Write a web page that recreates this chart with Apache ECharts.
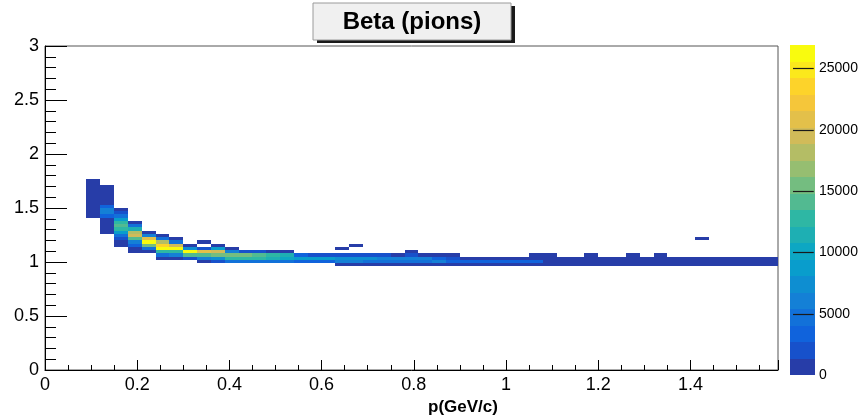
<!DOCTYPE html>
<html>
<head>
<meta charset="utf-8">
<script src="https://cdn.jsdelivr.net/npm/echarts@6/dist/echarts.min.js"></script>
<style>
html,body{margin:0;padding:0;background:#fff;}
#chart{width:863px;height:419px;}
</style>
</head>
<body>
<div id="chart"></div>
<script>
// ---------------- DATA ----------------
const titleText = 'Beta (pions)';
const xTitle = 'p(GeV/c)';
const xMin = 0, xMax = 1.59, yMin = 0, yMax = 3;
const xBinWidth = 0.03, yBinWidth = 0.03;
const zMax = 26900;          // top of colour scale
const nContours = 20;
const xTickLabels = [0, 0.2, 0.4, 0.6, 0.8, 1, 1.2, 1.4];
const zTickValues = [0, 5000, 10000, 15000, 20000, 25000];

// lower x edge of each filled column
const colX = [0.09, 0.12, 0.15, 0.18, 0.21, 0.24, 0.27, 0.30, 0.33, 0.36,
              0.39, 0.42, 0.45, 0.48, 0.51, 0.54, 0.57, 0.60, 0.63, 0.66,
              0.69, 0.72, 0.75, 0.78, 0.81, 0.84, 0.87, 0.90, 0.93, 0.96,
              0.99, 1.02, 1.05, 1.08, 1.11, 1.14, 1.17, 1.20, 1.23, 1.26,
              1.29, 1.32, 1.35, 1.38, 1.41, 1.44, 1.47, 1.50, 1.53, 1.56];
// lower y edge of the first (lowest) bin listed for each column
const colY0 = [1.41, 1.26, 1.14, 1.08, 1.08, 1.02, 1.02, 1.02, 0.99, 0.99,
               0.99, 0.99, 0.99, 0.99, 0.99, 0.99, 0.99, 0.99, 0.96, 0.96,
               0.96, 0.96, 0.96, 0.96, 0.96, 0.96, 0.96, 0.96, 0.96, 0.96,
               0.96, 0.96, 0.96, 0.96, 0.96, 0.96, 0.96, 0.96, 0.96, 0.96,
               0.96, 0.96, 0.96, 0.96, 0.96, 0.96, 0.96, 0.96, 0.96, 0.96];
// bin contents from bottom to top (0 = empty bin)
const colCounts = [
  [380, 520, 610, 680, 720, 760, 730, 690, 620, 540, 450, 330],
  [260, 540, 820, 1050, 1230, 3300, 6100, 5900, 3400, 1180, 950, 760, 560, 380, 190],
  [420, 980, 2100, 4600, 8600, 12600, 13800, 12300, 8500, 4400, 1900, 800],
  [520, 1250, 3300, 6300, 14100, 19400, 18200, 11300, 4500, 900],
  [800, 4600, 15300, 26900, 20900, 6200, 1100],
  [700, 4400, 12700, 26000, 23500, 18300, 4700, 1000],
  [1000, 6000, 12900, 25900, 19500, 4800, 900],
  [2300, 14000, 25700, 7400, 900],
  [900, 6300, 14200, 20600, 2200, 0, 600],
  [2000, 7400, 15400, 19300, 8700, 800],
  [4500, 12900, 15600, 6000, 700],
  [4400, 13000, 15200, 1600],
  [4300, 12700, 14200, 1500],
  [4200, 11600, 12700, 1200],
  [4100, 10300, 11200, 1000],
  [3800, 9000, 2800],
  [3700, 8800, 2500],
  [3600, 8400, 2300],
  [900, 5600, 7900, 2000, 0, 500],
  [1000, 5400, 7600, 1900, 0, 0, 450],
  [1100, 5200, 7000, 1700],
  [1200, 4900, 6600, 1500],
  [1200, 4600, 6100, 1300],
  [1200, 4400, 5800, 1500, 600],
  [1100, 4200, 5400, 1200],
  [1000, 5500, 3300, 800],
  [950, 3800, 2400, 700],
  [900, 3300, 1200],
  [880, 3200, 1150],
  [860, 3100, 1100],
  [840, 3000, 1050],
  [820, 2900, 1000],
  [800, 2800, 980, 300],
  [780, 1300, 950, 280],
  [760, 1250, 900],
  [740, 1230, 880],
  [720, 1210, 860, 220],
  [700, 1190, 840],
  [680, 1170, 820],
  [660, 1150, 800, 200],
  [640, 1120, 780],
  [620, 1100, 760, 190],
  [600, 1080, 740],
  [580, 1050, 720],
  [560, 1020, 700, 0, 0, 0, 0, 0, 150],
  [540, 1000, 680],
  [520, 980, 660],
  [500, 960, 640],
  [480, 940, 620],
  [460, 920, 600]
];

// ---------------- PALETTE (ROOT kBird) ----------------
const birdStops = [0, 0.125, 0.25, 0.375, 0.5, 0.625, 0.75, 0.875, 1];
const birdR = [0.2082, 0.0592, 0.0780, 0.0232, 0.1802, 0.5301, 0.8186, 0.9956, 0.9764];
const birdG = [0.1664, 0.3599, 0.5041, 0.6419, 0.7178, 0.7492, 0.7328, 0.7862, 0.9832];
const birdB = [0.5293, 0.8684, 0.8385, 0.7914, 0.6425, 0.4662, 0.3499, 0.1968, 0.0539];
function bird(f) {
  let s = 0;
  while (s < birdStops.length - 2 && f > birdStops[s + 1]) s++;
  const t = (f - birdStops[s]) / (birdStops[s + 1] - birdStops[s]);
  const c = (a) => Math.round(255 * (a[s] + t * (a[s + 1] - a[s])));
  return 'rgb(' + c(birdR) + ',' + c(birdG) + ',' + c(birdB) + ')';
}
const bandColors = [];
for (let i = 0; i < nContours; i++) {
  bandColors.push(bird(Math.floor((i + 0.99) * 255 / nContours) / 254));
}
const step = zMax / nContours;
const pieces = bandColors.map((c, i) => i === nContours - 1
  ? { gte: i * step, lte: zMax * 2, color: c }
  : { gte: i * step, lt: (i + 1) * step, color: c });

// ---------------- BUILD CELLS ----------------
const cells = [];
colX.forEach((x, i) => {
  colCounts[i].forEach((v, j) => {
    if (v > 0) cells.push([x, +(colY0[i] + j * yBinWidth).toFixed(4), v]);
  });
});
const bands = bandColors.map((c, i) => [i * step, (i + 1) * step, i]);
const zTicks = zTickValues.filter(v => v > 0).map(v => [v]);

const chart = echarts.init(document.getElementById('chart'), null, { renderer: 'canvas' });
const FONT = '"Liberation Sans", Arial, Helvetica, sans-serif';

chart.setOption({
  animation: false,
  backgroundColor: '#ffffff',
  grid: [
    { left: 45, right: 85, top: 46, bottom: 49, show: true, borderColor: '#555', borderWidth: 1, backgroundColor: 'transparent' },
    { left: 790, width: 25, top: 45, height: 330 }
  ],
  visualMap: [{
    type: 'piecewise', show: false, dimension: 2, seriesIndex: 0, pieces: pieces
  }],
  xAxis: [
    {
      gridIndex: 0, type: 'value', position: 'bottom', min: xMin, max: xMax, interval: 0.05, z: 10,
      axisLine: { show: true, lineStyle: { color: '#000', width: 1 } },
      axisTick: { show: true, inside: true, length: 5, lineStyle: { color: '#000' } },
      splitLine: { show: false },
      axisLabel: {
        margin: 6, fontSize: 18, color: '#000', fontFamily: FONT, showMaxLabel: false,
        formatter: (v) => {
          const hit = xTickLabels.find(t => Math.abs(t - v) < 1e-6);
          return hit === undefined ? '' : String(hit);
        }
      }
    },
    {
      gridIndex: 0, type: 'value', position: 'bottom', min: xMin, max: xMax, interval: 0.2, z: 10,
      axisLine: { show: false },
      axisTick: { show: true, inside: true, length: 10, lineStyle: { color: '#000' } },
      splitLine: { show: false },
      axisLabel: { show: false }
    },
    { gridIndex: 1, type: 'value', min: 0, max: 1, show: false }
  ],
  yAxis: [
    {
      gridIndex: 0, type: 'value', min: yMin, max: yMax, interval: 0.5, z: 10,
      axisLine: { show: true, lineStyle: { color: '#000', width: 1 } },
      axisTick: { show: true, inside: true, length: 22, lineStyle: { color: '#000' } },
      minorTick: { show: true, splitNumber: 5, length: 11, lineStyle: { color: '#000' } },
      splitLine: { show: false },
      axisLabel: { margin: 6, fontSize: 18, color: '#000', fontFamily: FONT }
    },
    {
      gridIndex: 1, type: 'value', position: 'right', min: 0, max: zMax, interval: 5000,
      axisLine: { show: false },
      axisTick: { show: false },
      splitLine: { show: false },
      axisLabel: { margin: 4, fontSize: 14, color: '#000', fontFamily: FONT, customValues: zTickValues,
                   formatter: (v) => String(Math.round(v)) }
    }
  ],
  series: [
    {
      type: 'custom', xAxisIndex: 0, yAxisIndex: 0, clip: true, z: 2,
      encode: { x: 0, y: 1 },
      data: cells,
      renderItem: function (params, api) {
        const x = api.value(0), y = api.value(1);
        const p0 = api.coord([x, y + yBinWidth]);
        const p1 = api.coord([x + xBinWidth, y]);
        const x0 = Math.round(p0[0]), x1 = Math.round(p1[0]);
        const y0 = Math.round(p0[1]), y1 = Math.round(p1[1]);
        return { type: 'rect', shape: { x: x0, y: y0, width: x1 - x0, height: y1 - y0 },
                 style: { fill: api.visual('color') } };
      }
    },
    {
      type: 'custom', xAxisIndex: 2, yAxisIndex: 1, z: 2,
      data: bands,
      renderItem: function (params, api) {
        const p0 = api.coord([0, api.value(1)]);
        const p1 = api.coord([1, api.value(0)]);
        const y0 = Math.round(p0[1]), y1 = Math.round(p1[1]);
        return { type: 'rect', shape: { x: p0[0], y: y0, width: p1[0] - p0[0], height: y1 - y0 },
                 style: { fill: bandColors[api.value(2)] } };
      }
    },
    {
      type: 'custom', xAxisIndex: 2, yAxisIndex: 1, z: 5,
      data: zTicks,
      renderItem: function (params, api) {
        const a = api.coord([0.12, api.value(0)]);
        const b = api.coord([0.95, api.value(0)]);
        const y = Math.round(a[1]) + 0.5;
        return { type: 'line', shape: { x1: a[0], y1: y, x2: b[0], y2: y },
                 style: { stroke: '#1a1a1a', lineWidth: 1.2 } };
      }
    }
  ],
  graphic: [
    { type: 'rect', z: 100, shape: { x: 317, y: 6, width: 198, height: 37 }, style: { fill: '#1a1a1a' } },
    { type: 'rect', z: 101, shape: { x: 313, y: 3, width: 198, height: 37 }, style: { fill: '#f0f0f0', stroke: '#9a9a9a', lineWidth: 1 } },
    { type: 'text', z: 102, x: 412, y: 22, style: { text: titleText, align: 'center', verticalAlign: 'middle',
      font: 'bold 24px ' + FONT, fill: '#000' } },
    { type: 'text', z: 102, x: 463, y: 407, style: { text: xTitle, align: 'center', verticalAlign: 'middle',
      font: 'bold 17px ' + FONT, fill: '#000' } }
  ]
});
</script>
</body>
</html>
